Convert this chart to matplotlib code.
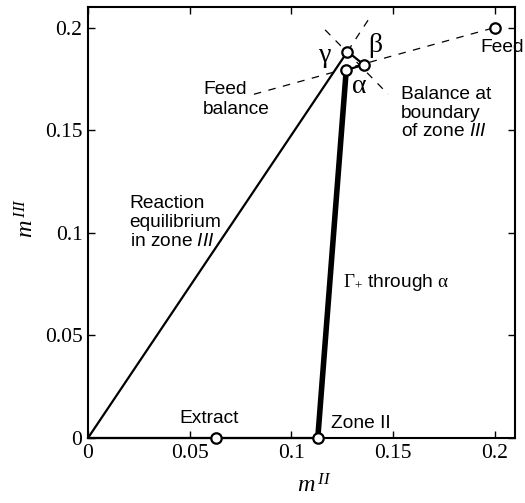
import matplotlib
matplotlib.use("Agg")
import matplotlib.pyplot as plt

plt.rcParams['mathtext.fontset'] = 'custom'
plt.rcParams['mathtext.rm'] = 'Liberation Serif'
plt.rcParams['mathtext.it'] = 'Liberation Serif:italic'
plt.rcParams['mathtext.sf'] = 'Liberation Sans:italic'

# -------- DATA (m^II, m^III) --------
feed = (0.2, 0.2)
gamma = (0.1276, 0.1883)
beta = (0.1357, 0.1819)
alpha = (0.127, 0.1793)
extract = (0.0629, 0.0)
zone2 = (0.113, 0.0)
origin = (0.0, 0.0)

# ends of the dashed construction lines
feed_bal_start = (0.0816, 0.1675)
boundary_start = (0.1166, 0.1989)
boundary_end = (0.1476, 0.1675)
equil_end = (0.138, 0.204)

ticks = [0, 0.05, 0.1, 0.15, 0.2]
tick_labels = ["0", "0.05", "0.1", "0.15", "0.2"]

serif = "Liberation Serif"
sans = "Liberation Sans"


def seg(a, b):
    return [a[0], b[0]], [a[1], b[1]]


fig = plt.figure(figsize=(5.25, 5.03), dpi=100)
ax = fig.add_axes([0.1676, 0.1292, 0.8134, 0.8568])

# -------- DASHED LINES --------
dash = dict(color="black", lw=0.9, dashes=(6, 6))
ax.plot(*seg(feed_bal_start, feed), **dash)
ax.plot(*seg(boundary_start, boundary_end), **dash)
ax.plot(*seg(gamma, equil_end), **dash)

# -------- SOLID LINES --------
ax.plot(*seg(origin, gamma), color="black", lw=1.6)
ax.plot(*seg(origin, zone2), color="black", lw=1.6, clip_on=False)
ax.plot([gamma[0], beta[0], alpha[0]], [gamma[1], beta[1], alpha[1]],
        color="black", lw=1.6)
ax.plot(*seg(zone2, alpha), color="black", lw=4)

# -------- POINTS --------
pts = [feed, gamma, beta, alpha, extract, zone2]
ax.plot([p[0] for p in pts], [p[1] for p in pts], "o", ms=7.5,
        mfc="white", mec="black", mew=1.6, clip_on=False, zorder=5)

# -------- ANNOTATIONS --------
fs = 13.8
ax.text(0.1928, 0.1905, "Feed", fontsize=fs, family=sans, va="center")
ax.text(0.0566, 0.165, "Feed\nbalance", fontsize=fs, family=sans,
        va="center", linespacing=1.2)
ax.text(0.154, 0.1583, "Balance at\nboundary\nof zone $\\mathsf{III}$",
        fontsize=fs, family=sans, va="center", linespacing=1.1)
ax.text(0.0205, 0.105, "Reaction\nequilibrium\nin zone $\\mathsf{III}$",
        fontsize=fs, family=sans, va="center", linespacing=1.18)
ax.text(0.1255, 0.0757, "$\\Gamma_{+}$ through $\\mathrm{\\alpha}$",
        fontsize=fs, family=sans, va="center")
ax.text(0.045, 0.0097, "Extract", fontsize=fs, family=sans, va="center")
ax.text(0.1197, 0.0073, "Zone II", fontsize=fs, family=sans, va="center")

ax.text(0.1168, 0.1865, "γ", fontsize=20, family=serif, ha="center", va="center")
ax.text(0.1412, 0.1915, "β", fontsize=20, family=serif, ha="center", va="center")
ax.text(0.1334, 0.1712, "α", fontsize=20, family=serif, ha="center", va="center")

# -------- AXES --------
ax.set_xlim(0, 0.21)
ax.set_ylim(0, 0.21)
ax.set_xticks(ticks)
ax.set_xticklabels(tick_labels)
ax.set_yticks(ticks)
ax.set_yticklabels(tick_labels)
ax.tick_params(direction="in", length=5, width=1, top=True, right=True,
               labelsize=15.5, pad=4)
for lab in ax.get_xticklabels() + ax.get_yticklabels():
    lab.set_family(serif)
for sp in ax.spines.values():
    sp.set_linewidth(1.5)

ax.set_xlabel("$m^{\\,II}$", fontsize=17.5)
ax.xaxis.label.set_va("center")
ax.xaxis.set_label_coords(0.529, -0.111)
ax.set_ylabel("$m^{\\,III}$", fontsize=17.5)
ax.yaxis.label.set_va("center")
ax.yaxis.set_label_coords(-0.145, 0.51)

fig.savefig("out.png", dpi=100)
